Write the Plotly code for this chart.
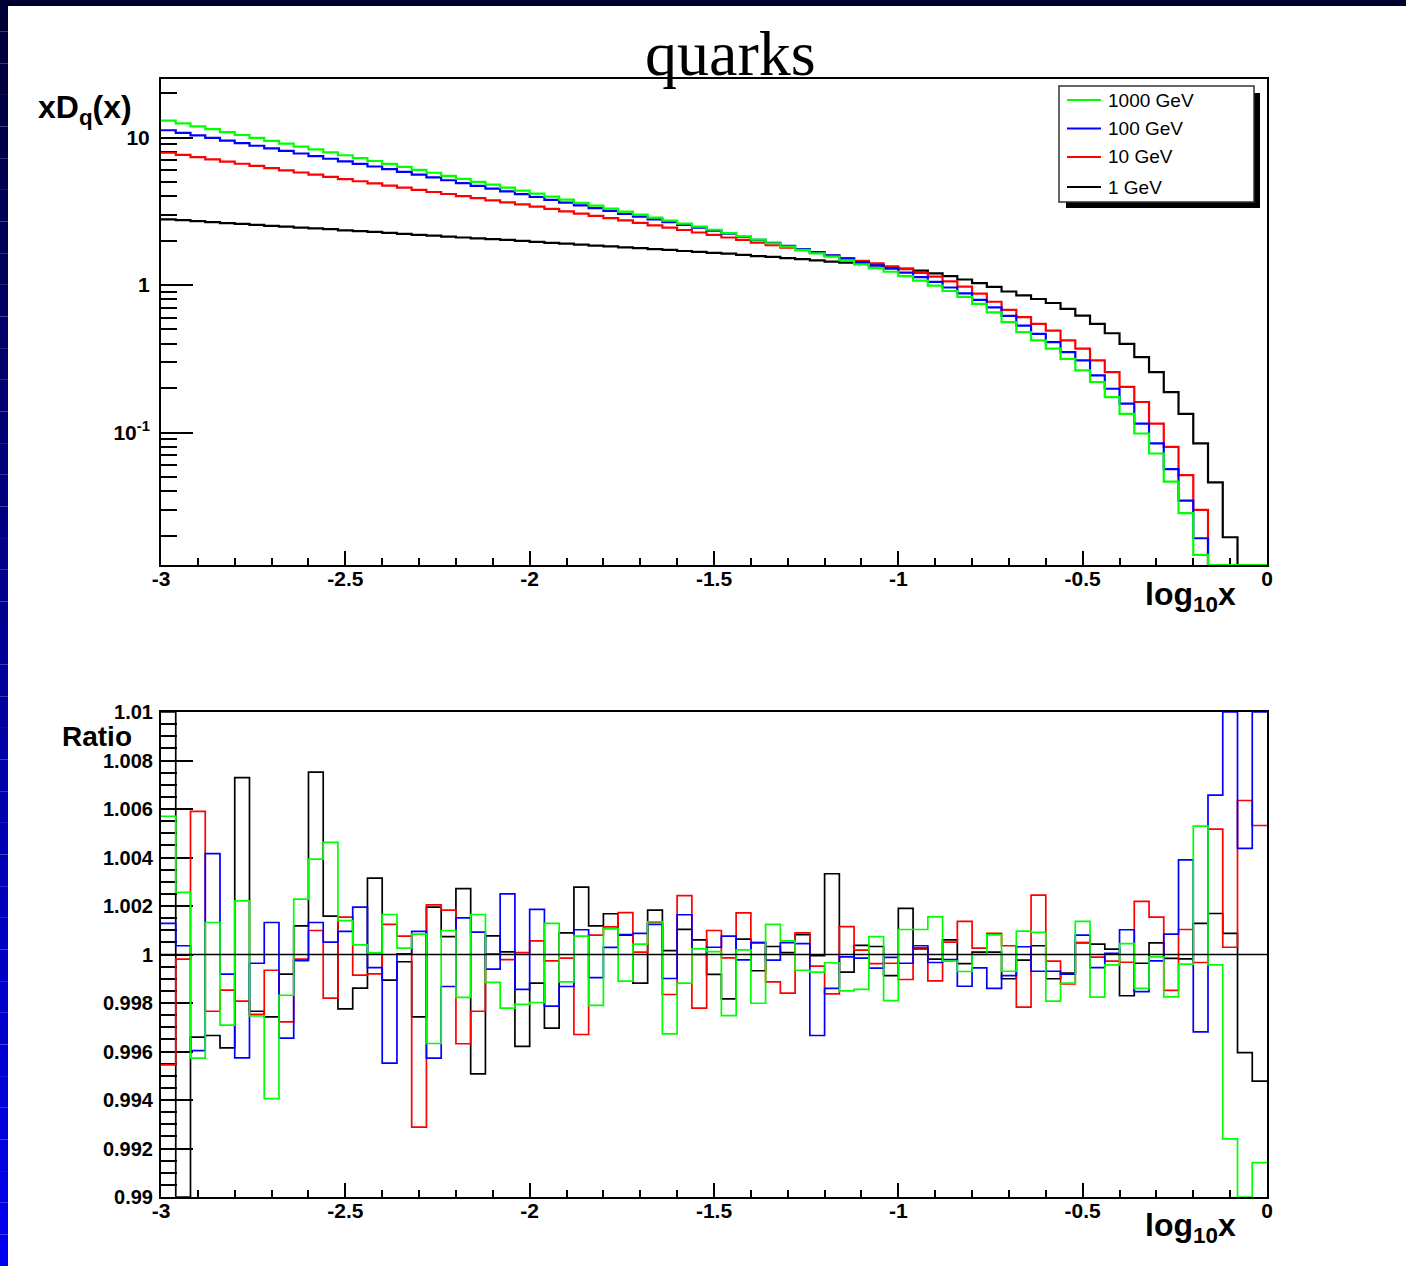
import numpy as np
import plotly.graph_objects as go

W, H = 1406, 1266

# ---------------- data ----------------
n_bins = 75
x_min, x_max = -3.0, 0.0

series_names = ["1000 GeV", "100 GeV", "10 GeV", "1 GeV"]
series_colors = ["#00ff00", "#0000ff", "#ff0000", "#000000"]

# xD_q(x) per bin of log10 x (top panel)
xdq_1000 = [13.03, 12.45, 11.91, 11.38, 10.87, 10.40, 9.94, 9.50, 9.08, 8.68,
            8.30, 7.93, 7.58, 7.25, 6.93, 6.62, 6.33, 6.04, 5.77, 5.50,
            5.25, 5.01, 4.79, 4.57, 4.36, 4.16, 3.97, 3.79, 3.61, 3.45,
            3.29, 3.14, 3.00, 2.86, 2.73, 2.61, 2.49, 2.37, 2.25, 2.14,
            2.03, 1.92, 1.82, 1.73, 1.64, 1.56, 1.47, 1.38, 1.30, 1.23,
            1.15, 1.07, 0.992, 0.911, 0.830, 0.744, 0.652, 0.560, 0.479, 0.421,
            0.370, 0.316, 0.264, 0.220, 0.174, 0.134, 0.0985, 0.0721, 0.0465, 0.0284,
            0.0148, 0, 0, 0, 0]
xdq_100 = [11.20, 10.76, 10.33, 9.93, 9.53, 9.15, 8.79, 8.44, 8.11, 7.79,
           7.48, 7.18, 6.90, 6.62, 6.36, 6.11, 5.85, 5.60, 5.36, 5.13,
           4.91, 4.70, 4.50, 4.31, 4.13, 3.95, 3.78, 3.62, 3.47, 3.32,
           3.18, 3.04, 2.91, 2.79, 2.67, 2.56, 2.45, 2.34, 2.23, 2.12,
           2.02, 1.93, 1.84, 1.75, 1.67, 1.59, 1.51, 1.43, 1.36, 1.29,
           1.215, 1.13, 1.05, 0.962, 0.877, 0.792, 0.705, 0.618, 0.531, 0.467,
           0.410, 0.351, 0.308, 0.244, 0.198, 0.157, 0.115, 0.0843, 0.0565, 0.0345,
           0.0192, 0, 0, 0, 0]
xdq_10 = [7.88, 7.62, 7.36, 7.11, 6.87, 6.64, 6.42, 6.20, 5.99, 5.79,
          5.60, 5.41, 5.23, 5.05, 4.88, 4.72, 4.57, 4.42, 4.27, 4.14,
          4.01, 3.88, 3.75, 3.63, 3.52, 3.40, 3.28, 3.16, 3.05, 2.94,
          2.84, 2.74, 2.64, 2.54, 2.45, 2.36, 2.27, 2.19, 2.10, 2.02,
          1.94, 1.86, 1.79, 1.72, 1.65, 1.58, 1.52, 1.46, 1.40, 1.34,
          1.28, 1.21, 1.14, 1.06, 0.975, 0.875, 0.770, 0.678, 0.605, 0.545,
          0.491, 0.421, 0.370, 0.308, 0.257, 0.204, 0.161, 0.115, 0.080, 0.0515,
          0.0299, 0, 0, 0, 0]
xdq_1 = [2.79, 2.75, 2.71, 2.67, 2.63, 2.60, 2.56, 2.52, 2.49, 2.45,
         2.42, 2.39, 2.35, 2.32, 2.29, 2.26, 2.22, 2.19, 2.16, 2.13,
         2.10, 2.07, 2.05, 2.02, 1.99, 1.96, 1.93, 1.91, 1.88, 1.85,
         1.83, 1.80, 1.78, 1.75, 1.73, 1.70, 1.68, 1.65, 1.63, 1.60,
         1.57, 1.55, 1.52, 1.50, 1.47, 1.44, 1.42, 1.39, 1.36, 1.32,
         1.29, 1.25, 1.20, 1.15, 1.09, 1.03, 0.970, 0.904, 0.850, 0.804,
         0.755, 0.689, 0.621, 0.545, 0.471, 0.399, 0.324, 0.257, 0.188, 0.134,
         0.0843, 0.0459, 0.0195, 0, 0]

# Ratio per bin (bottom panel)
ratio_1000 = [1.0057, 1.00256, 0.99573, 1.00132, 0.99709, 1.00221, 0.99747, 0.99406, 0.99832, 1.00228,
              1.00393, 1.00462, 1.0014, 1.0004, 1.00007, 1.00165, 1.00026, 1.00084, 0.99633, 1.00099,
              0.99823, 1.00165, 0.99885, 0.99779, 0.99794, 0.99802, 1.00128, 0.99887, 1.00076, 0.9979,
              1.00106, 0.9989, 1.00043, 1.00135, 0.99673, 0.99882, 1.00023, 1.00012, 0.99748, 1.00019,
              0.99799, 1.00124, 1.00056, 0.99935, 0.99927, 0.99966, 0.9985, 0.99856, 1.00074, 0.9981,
              1.00103, 1.00103, 1.00155, 0.99973, 0.9993, 1.0, 1.00081, 0.99931, 1.00096, 1.00091,
              0.99808, 0.99882, 1.00137, 0.99824, 0.99957, 1.00045, 0.9986, 0.9999, 0.99825, 0.9996,
              1.00529, 0.99957, 0.9924, 0.985, 0.99142]
ratio_100 = [1.00128, 1.00036, 0.99604, 1.00416, 0.99919, 0.99574, 0.99964, 1.00132, 0.99655, 0.99975,
             1.00132, 1.00051, 1.00095, 1.00195, 0.99946, 0.99552, 1.00003, 1.00095, 0.99573, 0.99868,
             1.00151, 1.00092, 0.9994, 1.0025, 0.99856, 1.00186, 0.99787, 0.99868, 1.00102, 0.99905,
             1.00029, 1.00082, 1.00087, 1.00124, 0.99901, 1.00164, 1.0, 1.0003, 1.00076, 0.99978,
             1.00048, 0.99977, 1.00049, 1.00045, 0.99666, 0.9986, 0.9999, 0.99985, 0.99944, 0.99988,
             0.99964, 1.00036, 0.99967, 0.99979, 0.99869, 0.99945, 0.9986, 0.99913, 1.00032, 0.99931,
             0.99931, 0.99919, 1.0008, 0.99946, 1.00005, 1.00102, 0.99847, 0.99974, 1.00084, 1.0039,
             0.99681, 1.00657, 1.02, 1.00438, 1.02]
ratio_10 = [0.99545, 0.99981, 1.0059, 0.99766, 0.99853, 0.99808, 0.99753, 0.99935, 0.99722, 0.99981,
            1.00099, 0.9982, 1.00154, 0.99915, 0.9992, 1.00124, 1.00076, 0.99288, 1.00205, 1.00183,
            0.99632, 0.99766, 1.00003, 0.99979, 1.00008, 1.00056, 0.99974, 0.99985, 0.9967, 1.0008,
            1.00114, 1.00173, 1.0001, 1.00133, 0.99835, 1.00243, 0.99779, 1.00099, 0.99986, 1.00172,
            1.0005, 0.99887, 0.99841, 1.00089, 0.99952, 0.99838, 1.00115, 1.00018, 0.99962, 0.99964,
            0.99897, 1.00022, 0.99891, 1.00051, 1.00137, 1.00026, 1.00087, 1.00036, 0.99783, 1.00245,
            0.99973, 0.99879, 1.00048, 0.99989, 0.99973, 0.99968, 1.00219, 1.00154, 0.99852, 1.00103,
            0.99967, 1.00517, 1.0003, 1.00635, 1.00532]
ratio_1 = [1.02, 0.98, 0.99659, 0.99666, 0.99615, 1.00729, 0.99766, 0.99743, 0.99919, 1.00118,
           1.00752, 1.00158, 0.99776, 0.99861, 1.00315, 0.99894, 0.9997, 0.99743, 1.00195, 1.00074,
           1.00272, 0.99508, 1.00077, 1.00011, 0.99621, 0.99882, 0.99696, 1.00089, 1.00278, 1.00118,
           1.00168, 1.0008, 0.99882, 1.00183, 1.00016, 1.00104, 1.0006, 0.99918, 0.99817, 1.00063,
           0.99933, 1.00033, 1.00008, 1.00082, 0.99995, 1.00333, 0.99927, 1.00038, 1.00033, 0.99913,
           1.0019, 1.00026, 0.99981, 1.0006, 0.99962, 1.0001, 1.0001, 0.999, 0.99977, 1.00036,
           0.999, 0.99923, 1.00049, 1.00043, 1.00022, 0.9983, 0.99964, 1.00048, 0.99984, 0.99982,
           1.00128, 1.00169, 1.00087, 0.99595, 0.99478]

x_tick_vals = [-3, -2.5, -2, -1.5, -1, -0.5, 0]
x_tick_text = ["-3", "-2.5", "-2", "-1.5", "-1", "-0.5", "0"]
top_tick_vals = [0.1, 1, 10]
top_tick_text = ["10<sup>-1</sup>", "1", "10"]
ratio_tick_vals = [0.99, 0.992, 0.994, 0.996, 0.998, 1.0, 1.002, 1.004, 1.006, 1.008, 1.01]
ratio_tick_text = ["0.99", "0.992", "0.994", "0.996", "0.998", "1", "1.002", "1.004", "1.006", "1.008", "1.01"]

# ---------------- figure ----------------
top_log_range = [-1.898, 1.3966]
ratio_range = [0.99, 1.01]

def px(x):
    return x / W

def py(y):
    return 1 - y / H

edges = np.linspace(x_min, x_max, n_bins + 1)

fig = go.Figure()

top_series = [xdq_1000, xdq_100, xdq_10, xdq_1]
ratio_series = [ratio_1000, ratio_100, ratio_10, ratio_1]
floor = 10 ** top_log_range[0]

for i in [3, 2, 1, 0]:
    v = np.array(top_series[i], dtype=float)
    v = np.where(v <= 0, floor, v)
    fig.add_trace(go.Scatter(x=edges, y=list(v) + [v[-1]], mode="lines", line_shape="hv",
                             line=dict(color=series_colors[i], width=2.2),
                             name=series_names[i], showlegend=False, xaxis="x", yaxis="y"))
for i in [3, 2, 1, 0]:
    v = np.clip(np.array(ratio_series[i], dtype=float), ratio_range[0], ratio_range[1])
    fig.add_trace(go.Scatter(x=edges, y=list(v) + [v[-1]], mode="lines", line_shape="hv",
                             line=dict(color=series_colors[i], width=1.7),
                             name=series_names[i], showlegend=False, xaxis="x2", yaxis="y2"))

tick_font = dict(family="Liberation Sans, Arial", size=21, color="black", weight="bold")
xdom = [px(161), px(1267)]

common_x = dict(range=[x_min, x_max], tickmode="array", tickvals=x_tick_vals, ticktext=x_tick_text,
                ticks="inside", ticklen=14, tickwidth=1.5, tickcolor="black",
                minor=dict(ticks="inside", ticklen=7, tickwidth=1.5, tickcolor="black", dtick=0.1, tick0=-3),
                showline=True, linecolor="black", linewidth=2, mirror=True, showgrid=False,
                zeroline=False, tickfont=tick_font, automargin=False, layer="below traces",
                ticklabelstandoff=-6, domain=xdom)

minor_log_vals = [m * 10.0 ** e for e in (-2, -1, 0, 1) for m in range(2, 10)]

fig.update_layout(
    width=W, height=H, autosize=False,
    margin=dict(l=0, r=0, t=0, b=0, pad=0),
    paper_bgcolor="white", plot_bgcolor="white",
    xaxis=dict(anchor="y", **common_x),
    xaxis2=dict(anchor="y2", **common_x),
    yaxis=dict(type="log", range=top_log_range, domain=[py(565), py(79)], anchor="x",
               tickmode="array", tickvals=top_tick_vals, ticktext=top_tick_text,
               ticks="inside", ticklen=32, tickwidth=1.5, tickcolor="black",
               minor=dict(ticks="inside", ticklen=16, tickwidth=1.5, tickcolor="black",
                          tickmode="array", tickvals=minor_log_vals),
               showline=True, linecolor="black", linewidth=2, mirror=True, showgrid=False,
               zeroline=False, tickfont=tick_font, automargin=False, layer="below traces",
               ticklabelstandoff=5),
    yaxis2=dict(range=ratio_range, domain=[py(1197), py(712)], anchor="x2",
                tickmode="array", tickvals=ratio_tick_vals, ticktext=ratio_tick_text,
                ticks="inside", ticklen=32, tickwidth=1.5, tickcolor="black",
                minor=dict(ticks="inside", ticklen=16, tickwidth=1.5, tickcolor="black",
                           dtick=0.0005, tick0=0.99),
                showline=True, linecolor="black", linewidth=2, mirror=True, showgrid=False,
                zeroline=False, tickfont=dict(tick_font, size=20), automargin=False,
                layer="below traces", ticklabelstandoff=2),
)

shapes = []
# slide border: top band and left gradient band
shapes.append(dict(type="rect", xref="paper", yref="paper", x0=0, x1=1, y0=py(6), y1=1,
                   fillcolor="#00002e", line=dict(width=0), layer="above"))
n_grad = 40
for j in range(n_grad):
    t = j / (n_grad - 1)
    b = int(0x38 + t * (0xf0 - 0x38))
    shapes.append(dict(type="rect", xref="paper", yref="paper",
                       x0=0, x1=px(8), y0=py(H * (j + 1) / n_grad), y1=py(H * j / n_grad),
                       fillcolor="rgb(0,0,%d)" % b, line=dict(width=0), layer="above"))
# unity line in ratio panel
shapes.append(dict(type="line", xref="x2", yref="y2", x0=x_min, x1=x_max, y0=1, y1=1,
                   line=dict(color="black", width=1.5)))
# legend box with shadow
shapes.append(dict(type="rect", xref="paper", yref="paper", x0=px(1066), x1=px(1260),
                   y0=py(208), y1=py(93), fillcolor="black", line=dict(width=0)))
shapes.append(dict(type="rect", xref="paper", yref="paper", x0=px(1059), x1=px(1254),
                   y0=py(202), y1=py(86), fillcolor="white", line=dict(color="#333333", width=1.5)))
legend_rows = [100, 128.5, 157, 187]
annotations = []
for i, yy in enumerate(legend_rows):
    shapes.append(dict(type="line", xref="paper", yref="paper", x0=px(1067), x1=px(1101),
                       y0=py(yy), y1=py(yy), line=dict(color=series_colors[i], width=2)))
    annotations.append(dict(xref="paper", yref="paper", x=px(1106), y=py(yy), xanchor="left",
                            yanchor="middle", showarrow=False, text=series_names[i],
                            font=dict(family="Liberation Sans, Arial", size=19, color="black")))

lab_font = dict(family="Liberation Sans, Arial", size=32, color="black", weight="bold")
annotations += [
    dict(xref="paper", yref="paper", x=px(730), y=py(54), xanchor="center", yanchor="middle",
         showarrow=False, text="quarks",
         font=dict(family="Liberation Serif, Times New Roman", size=64, color="black")),
    dict(xref="paper", yref="paper", x=px(134), y=py(109), xanchor="right", yanchor="middle",
         showarrow=False, text="xD<sub>q</sub>(x)", font=lab_font),
    dict(xref="paper", yref="paper", x=px(134), y=py(736), xanchor="right", yanchor="middle",
         showarrow=False, text="Ratio", font=dict(lab_font, size=28)),
    dict(xref="paper", yref="paper", x=px(1238), y=py(597), xanchor="right", yanchor="middle",
         showarrow=False, text="log<sub>10</sub>x", font=dict(lab_font, size=32)),
    dict(xref="paper", yref="paper", x=px(1238), y=py(1227), xanchor="right", yanchor="middle",
         showarrow=False, text="log<sub>10</sub>x", font=dict(lab_font, size=32)),
]

fig.update_layout(shapes=shapes, annotations=annotations)

fig.write_html("out.html", config={"displayModeBar": False},
               post_script="document.body.style.margin='0';")
